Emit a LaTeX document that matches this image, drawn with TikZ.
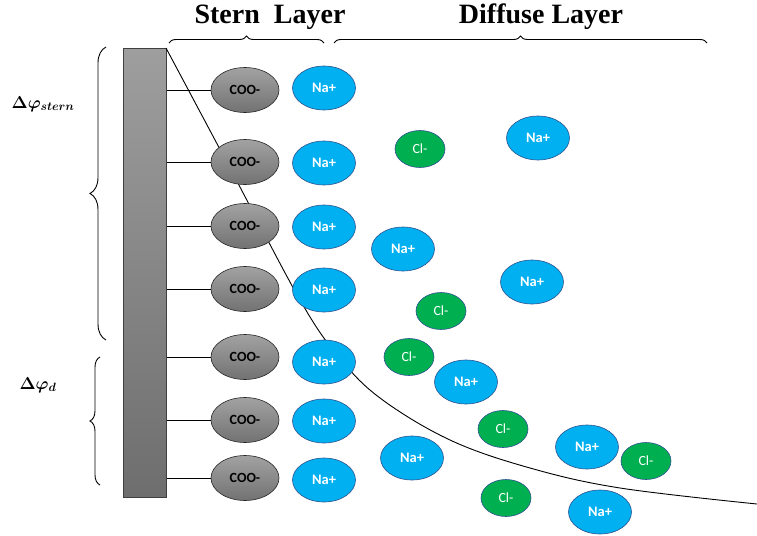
\documentclass[tikz,border=0pt]{standalone}
\usepackage{bm}
\usepackage{fontspec}
\setmainfont{Liberation Serif}
\newfontfamily\ionfont{Carlito}
\usetikzlibrary{shapes.geometric,decorations.pathreplacing}
\definecolor{IonBlue}{HTML}{00B0F0}
\definecolor{IonGreen}{HTML}{00B050}
\definecolor{IonEdge}{HTML}{2F528F}
\definecolor{CooTop}{HTML}{A2A2A2}
\definecolor{CooBot}{HTML}{727272}
\definecolor{PlateTop}{HTML}{9E9E9E}
\definecolor{PlateBot}{HTML}{6E6E6E}

\begin{document}
\begin{tikzpicture}[x=1pt, y=-1pt,
  coo/.style={ellipse, draw=black!85, semithick, top color=CooTop, bottom color=CooBot, minimum width=68pt, minimum height=45pt, inner sep=0pt, font=\ionfont\bfseries\fontsize{14}{14}\selectfont},
  na/.style={ellipse, draw=IonEdge, semithick, fill=IonBlue, minimum width=63pt, minimum height=44pt, inner sep=0pt, text=white, font=\ionfont\bfseries\fontsize{14.5}{14.5}\selectfont},
  cl/.style={ellipse, draw=IonEdge, semithick, fill=IonGreen, minimum width=50pt, minimum height=37pt, inner sep=0pt, text=white, font=\ionfont\fontsize{14}{14}\selectfont},
  layer/.style={font=\bfseries\fontsize{28}{30}\selectfont},
  potlbl/.style={font=\fontsize{17}{17}\selectfont},
  brk/.style={decorate, decoration={brace, amplitude=#1}, line width=0.9pt}]
  \useasboundingbox (0,0) rectangle (757,535);

  % headings and potentials
  \node[layer] (sternlbl) at (270,17) {Stern\ \ Layer};
  \node[layer] (difflbl) at (541,17) {Diffuse Layer};
  \node[potlbl] (dstern) at (43,104) {$\bm{\Delta\varphi_{stern}}$};
  \node[potlbl] (ddiff) at (38,385) {$\bm{\Delta\varphi_{d}}$};

  % brackets
  \coordinate (sl) at (169,43);
  \coordinate (sr) at (324,43);
  \coordinate (dl) at (334,43);
  \coordinate (dr) at (707,43);
  \coordinate (pt) at (106,47);
  \coordinate (pb) at (106,340);
  \coordinate (qt) at (100,357);
  \coordinate (qb) at (100,485);
  \draw[brk=7pt] (sl) -- (sr);
  \draw[brk=7pt] (dl) -- (dr);
  \draw[brk=16pt] (pb) -- (pt);
  \draw[brk=10pt] (qb) -- (qt);

  % charged wall
  \node[draw=black!75, semithick, top color=PlateTop, bottom color=PlateBot, minimum width=43pt, minimum height=449pt, inner sep=0pt, anchor=north west] (plate) at (123,48) {};

  % potential curve
  \draw[line width=0.9pt] plot[smooth, tension=0.6] coordinates {(166,48) (231,170) (300,300) (338,356) (380,398) (450,440) (530,468) (620,488) (757,504)};

  % surface groups
  \foreach \i/\y in {1/90,2/162,3/226,4/289,5/357,6/420,7/478} {
    \node[coo] (coo\i) at (245,\y) {COO-};
    \draw[semithick] (coo\i.west) -- (coo\i.west -| plate.east);
  }

  % counter ions in the Stern layer
  \foreach \i/\y in {1/88,2/163,3/227,4/290,5/362,6/421,7/480}
    \node[na] (na\i) at (324,\y) {Na+};

  % ions in the diffuse layer
  \foreach \i/\x/\y in {8/538/138,9/403/249,10/532/282,11/466/382,12/587/447,13/412/458,14/600/512}
    \node[na] (na\i) at (\x,\y) {Na+};
  \foreach \i/\x/\y in {1/420/149,2/441/311,3/409/357,4/503/429,5/646/461,6/506/498}
    \node[cl] (cl\i) at (\x,\y) {Cl-};
\end{tikzpicture}
\end{document}
